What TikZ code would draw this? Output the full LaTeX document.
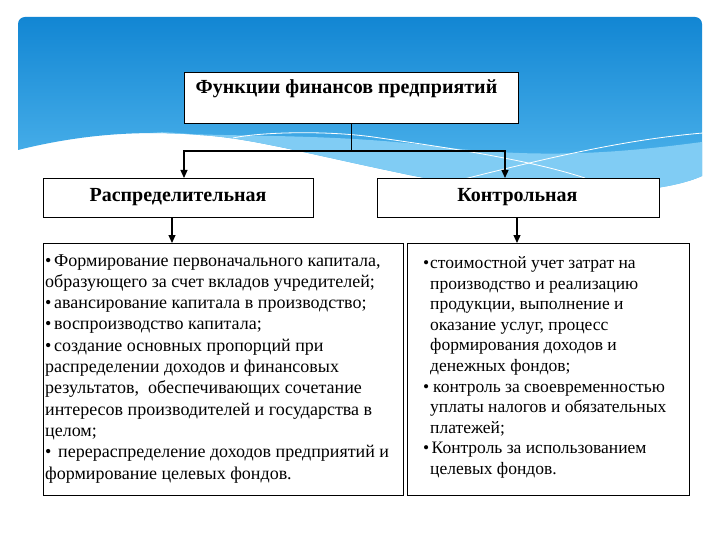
\documentclass[tikz,border=0pt]{standalone}
\usepackage{fontspec}
\setmainfont{Liberation Serif}
\usetikzlibrary{arrows.meta}
\definecolor{bgtop}{RGB}{18,134,211}
\definecolor{bgbot}{RGB}{84,184,238}
\definecolor{band}{RGB}{128,204,244}
\newcommand{\bl}[1]{\makebox[#1][l]{•}}
\begin{document}
\begin{tikzpicture}[x=1pt,y=-1pt,
  box/.style={draw=black,line width=1.1pt,fill=white,inner sep=0pt,anchor=north west},
  conn/.style={draw=black,line width=1.2pt},
  arr/.style={conn,-{Triangle[length=8pt,width=7pt]}},
  ttl/.style={font=\fontsize{20}{24}\selectfont\bfseries,inner sep=0pt,anchor=base},
  hdr/.style={font=\fontsize{20}{24}\selectfont\bfseries,inner sep=0pt,anchor=base},
  body/.style={inner sep=0pt,anchor=base west,align=left}]
\useasboundingbox (0,0) rectangle (720,540);
\fill[white] (0,0) rectangle (720,540);
% background slide header
\shade[top color=bgtop,bottom color=bgbot]
  (18,150) -- (18,24) arc[start angle=180,end angle=270,radius=7] -- (695,17)
  arc[start angle=270,end angle=360,radius=7] -- (702,176)
  .. controls (680,186) and (640,192) .. (600,192)
  .. controls (520,192) and (450,184) .. (400,173)
  .. controls (300,152) and (250,138) .. (200,135)
  .. controls (150,131) and (90,132) .. (18,150) -- cycle;
\fill[band]
  (150,132) .. controls (230,138) and (330,132) .. (450,148)
  .. controls (560,160) and (640,150) .. (702,142) -- (702,176)
  .. controls (680,186) and (640,192) .. (600,192)
  .. controls (520,192) and (450,184) .. (400,173)
  .. controls (300,152) and (250,138) .. (200,135)
  .. controls (180,133) and (165,132) .. (150,132) -- cycle;
\draw[white,line width=0.8pt] (233,138) .. controls (260,132) and (330,130) .. (380,138)
  .. controls (450,148) and (530,160) .. (585,178);
\draw[white,line width=0.8pt] (460,180) .. controls (540,160) and (620,140) .. (703,133);
% boxes
\node[box,line width=1.4pt,minimum width=334pt,minimum height=51pt] (t) at (184,72) {};
\node[box,minimum width=270pt,minimum height=39pt] (d) at (43,178) {};
\node[box,minimum width=282pt,minimum height=39pt] (k) at (377,178) {};
\node[box,minimum width=360pt,minimum height=252pt] (bl) at (43,243) {};
\node[box,minimum width=282pt,minimum height=252pt] (br) at (407,243) {};
% texts
\node[ttl] (tt) at (346.5,94) {Функции финансов предприятий};
\node[hdr] (dt) at (178,202) {Распределительная};
\node[hdr] (kt) at (517.5,202) {Контрольная};
\node[body,font=\fontsize{18}{21.3}\selectfont] (blt) at (45,479) {%
\bl{9pt}Формирование первоначального капитала,\\
образующего за счет вкладов учредителей;\\
\bl{9pt}авансирование капитала в производство;\\
\bl{9pt}воспроизводство капитала;\\
\bl{9pt}создание основных пропорций при\\
распределении доходов и финансовых\\
результатов,\ \ обеспечивающих сочетание\\
интересов производителей и государства в\\
целом;\\
\bl{13pt}перераспределение доходов предприятий и\\
формирование целевых фондов.};
\node[body,font=\fontsize{17.5}{20.6}\selectfont] (brt) at (423,474.5) {%
\bl{7pt}стоимостной учет затрат на\\
\hspace*{7pt}производство и реализацию\\
\hspace*{7pt}продукции, выполнение и\\
\hspace*{7pt}оказание услуг, процесс\\
\hspace*{7pt}формирования доходов и\\
\hspace*{7pt}денежных фондов;\\
\bl{10pt}контроль за своевременностью\\
\hspace*{7pt}уплаты налогов и обязательных\\
\hspace*{7pt}платежей;\\
\bl{8.5pt}Контроль за использованием\\
\hspace*{7pt}целевых фондов.};
% connectors
\coordinate (j) at (t.south |- 0,151);
\coordinate (jl) at (184,151);
\coordinate (jr) at (505,151);
\coordinate (lx) at (172,0);
\coordinate (rx) at (517,0);
\draw[conn] (t.south) -- (j);
\draw[arr] (j) -- (jl) -- (jl |- d.north);
\draw[arr] (j) -- (jr) -- (jr |- k.north);
\draw[arr] (lx |- d.south) -- (lx |- bl.north);
\draw[arr] (rx |- k.south) -- (rx |- br.north);
\end{tikzpicture}
\end{document}
